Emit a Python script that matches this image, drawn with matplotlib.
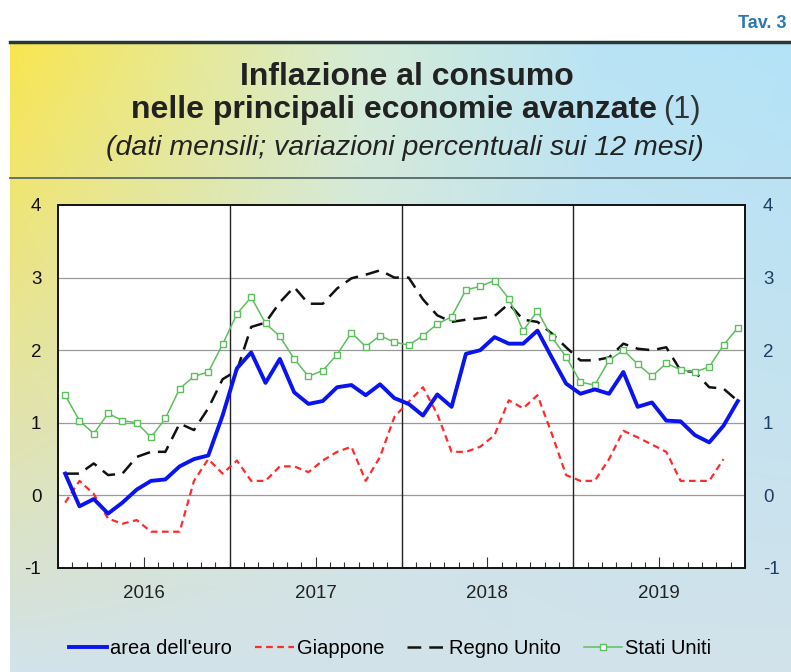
import numpy as np
import matplotlib
matplotlib.use("Agg")
import matplotlib.pyplot as plt
from matplotlib.lines import Line2D

plt.rcParams['font.family'] = ['Liberation Sans', 'DejaVu Sans']
plt.rcParams['axes.unicode_minus'] = False

# dati mensili gen 2016 - dic 2019 (variazioni % sui 12 mesi)
anni = ['2016', '2017', '2018', '2019']
area_euro = [0.3, -0.15, -0.05, -0.25, -0.1, 0.08, 0.2, 0.22, 0.4, 0.5, 0.55, 1.1,
             1.75, 1.97, 1.55, 1.88, 1.42, 1.26, 1.3, 1.49, 1.52, 1.38, 1.53, 1.34,
             1.26, 1.1, 1.39, 1.22, 1.95, 2.0, 2.18, 2.09, 2.09, 2.27, 1.9, 1.54,
             1.4, 1.46, 1.4, 1.7, 1.22, 1.28, 1.03, 1.02, 0.83, 0.73, 0.96, 1.3]
giappone = [-0.1, 0.2, 0.02, -0.32, -0.39, -0.34, -0.5, -0.5, -0.5, 0.2, 0.5, 0.3,
            0.48, 0.2, 0.2, 0.4, 0.4, 0.32, 0.48, 0.6, 0.67, 0.2, 0.53, 1.08,
            1.29, 1.49, 1.12, 0.6, 0.6, 0.67, 0.83, 1.31, 1.2, 1.38, 0.85, 0.28,
            0.2, 0.2, 0.5, 0.89, 0.8, 0.7, 0.6, 0.2, 0.2, 0.2, 0.5]
regno_unito = [0.3, 0.3, 0.44, 0.28, 0.3, 0.53, 0.6, 0.6, 0.99, 0.9, 1.2, 1.6,
               1.72, 2.32, 2.38, 2.66, 2.87, 2.64, 2.64, 2.85, 2.99, 3.04, 3.1, 3.0,
               3.0, 2.7, 2.48, 2.39, 2.42, 2.44, 2.47, 2.64, 2.42, 2.39, 2.23, 2.04,
               1.86, 1.86, 1.9, 2.09, 2.02, 2.0, 2.04, 1.72, 1.7, 1.49, 1.47, 1.3]
stati_uniti = [1.38, 1.03, 0.85, 1.13, 1.03, 1.0, 0.8, 1.06, 1.47, 1.64, 1.7, 2.08,
               2.5, 2.73, 2.37, 2.19, 1.88, 1.64, 1.72, 1.94, 2.24, 2.05, 2.2, 2.11,
               2.07, 2.2, 2.36, 2.46, 2.83, 2.88, 2.96, 2.71, 2.27, 2.54, 2.18, 1.91,
               1.56, 1.52, 1.86, 2.0, 1.81, 1.64, 1.82, 1.73, 1.7, 1.77, 2.07, 2.31]

W, H = 791, 672
fig = plt.figure(figsize=(W / 100, H / 100), dpi=100)

# sfondo sfumato giallo -> azzurro
bg = fig.add_axes([10 / W, 0, 781 / W, 630 / H])
bg.set_axis_off()
xs = np.linspace(0, 1, 300)
ys = np.linspace(0, 1, 200)
stops = [0.0, 0.45, 0.75, 1.0]
cols = np.array([[249, 230, 79], [214, 236, 214], [185, 228, 245], [180, 227, 247]]) / 255
top = np.stack([np.interp(xs, stops, cols[:, k]) for k in range(3)], axis=1)
bottom = np.array([210, 226, 234]) / 255
v = ys[:, None, None]
img = top[None, :, :] * (1 - v) + bottom[None, None, :] * v
bg.imshow(img, aspect='auto', extent=(0, 1, 0, 1), origin='upper')
bg.set_xlim(0, 1)
bg.set_ylim(0, 1)

# linee orizzontali dell'intestazione
fig.add_artist(Line2D([10 / W, 1], [1 - 42 / H] * 2, color='#283838', lw=2.5))
fig.add_artist(Line2D([10 / W, 1], [1 - 178 / H] * 2, color='#56686a', lw=1.3))

fig.text(787 / W, 1 - 24 / H, 'Tav. 3', ha='right', va='center',
         fontsize=13, fontweight='bold', color='#2b78b0')
fig.text(407 / W, 1 - 77 / H, 'Inflazione al consumo', ha='center', va='center',
         fontsize=23, fontweight='bold', color='#222222')
fig.text(657 / W, 1 - 110 / H, 'nelle principali economie avanzate', ha='right',
         va='center', fontsize=23, fontweight='bold', color='#222222')
fig.text(663 / W, 1 - 110 / H, '(1)', ha='left', va='center', fontsize=22, color='#333333')
fig.text(405 / W, 1 - 148 / H, '(dati mensili; variazioni percentuali sui 12 mesi)',
         ha='center', va='center', fontsize=20.5, style='italic', color='#222222')

# grafico
ax = fig.add_axes([58 / W, 1 - 568 / H, 687 / W, 363 / H])
ax.set_facecolor('white')
mesi = np.arange(len(area_euro))

ax.plot(mesi[:len(giappone)], giappone, color='#ff2b2b', lw=1.6, ls=(0, (3, 2)), zorder=3)
ax.plot(mesi, regno_unito, color='#111111', lw=1.8, ls=(0, (5.5, 3.2)), zorder=4)
ax.plot(mesi, stati_uniti, color='#5cc05c', lw=1.1, marker='s', ms=5,
        mfc='white', mec='#5cc05c', mew=1.0, zorder=4)
ax.plot(mesi, area_euro, color='#0a14f0', lw=2.8, zorder=5)

ax.set_xlim(-0.5, 47.5)
ax.set_ylim(-1, 4)
for y in range(0, 4):
    ax.axhline(y, color='#9a9a9a', lw=0.9, zorder=1)
for k in range(1, 4):
    ax.axvline(12 * k - 0.5, color='#222222', lw=1.0, zorder=2)

ax.set_xticks(np.arange(-0.5, 48, 1), minor=True)
ax.set_xticks([12 * k + 5.5 for k in range(4)])
ax.set_xticklabels([])
ax.tick_params(axis='x', which='minor', direction='in', length=4, width=0.8, color='#333333')
ax.tick_params(axis='x', which='major', direction='in', length=8, width=0.8, color='#333333')
for k, anno in enumerate(anni):
    ax.text(12 * k + 5.5, -1.35, anno, ha='center', va='center', fontsize=13.5, color='#222222')

ax.set_yticks(range(-1, 5))
ax.tick_params(axis='y', length=0, pad=12, labelsize=13.5, labelcolor='#111111')
for s in ax.spines.values():
    s.set_linewidth(1.4)
    s.set_color('#111111')

ax2 = ax.twinx()
ax2.set_ylim(-1, 4)
ax2.set_yticks(range(-1, 5))
ax2.tick_params(axis='y', length=0, pad=13, labelsize=13.5, labelcolor='#1d3f66')
for s in ax2.spines.values():
    s.set_visible(False)

handles = [
    Line2D([], [], color='#0a14f0', lw=2.8),
    Line2D([], [], color='#ff2b2b', lw=1.6, ls=(0, (3, 2))),
    Line2D([], [], color='#111111', lw=1.8, ls=(0, (5.5, 3.2))),
    Line2D([], [], color='#5cc05c', lw=1.1, marker='s', ms=4, mfc='white', mec='#5cc05c'),
]
labels = ["area dell'euro", 'Giappone', 'Regno Unito', 'Stati Uniti']
fig.legend(handles, labels, loc='center', bbox_to_anchor=(390 / W, 1 - 649 / H), ncol=4,
           frameon=False, fontsize=14.5, handlelength=1.9, handletextpad=0.15,
           columnspacing=1.15)

fig.savefig('out.png', dpi=100)
